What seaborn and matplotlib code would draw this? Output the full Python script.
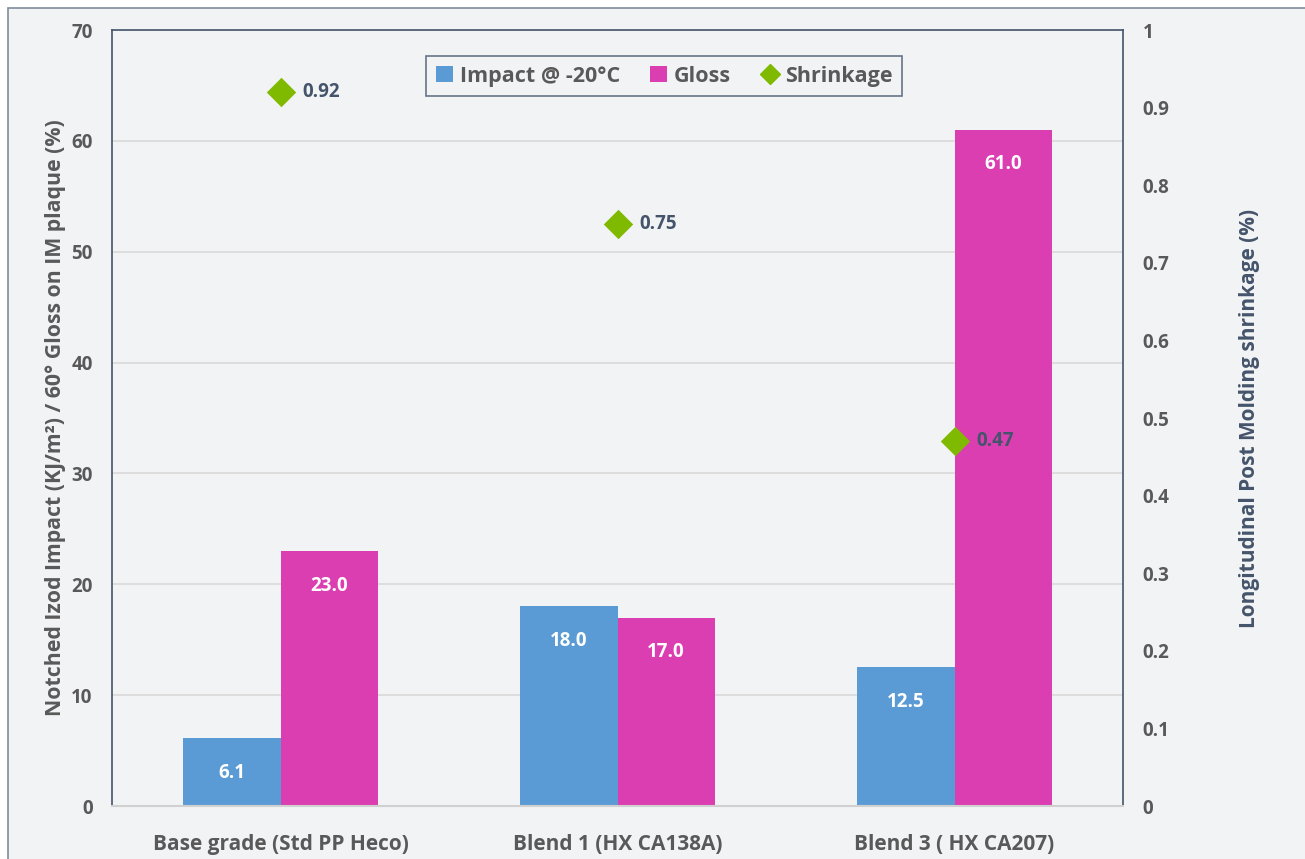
import numpy as np
import pandas as pd
import matplotlib
matplotlib.use("Agg")
import matplotlib.pyplot as plt
from matplotlib.patches import Patch, Rectangle
from matplotlib.lines import Line2D
import seaborn as sns

categories = ["Base grade (Std PP Heco)", "Blend 1 (HX CA138A)", "Blend 3 ( HX CA207)"]
impact = [6.1, 18.0, 12.5]
gloss = [23.0, 17.0, 61.0]
shrinkage = [0.92, 0.75, 0.47]
series_names = ["Impact @ -20°C", "Gloss", "Shrinkage"]
left_ticks = [0, 10, 20, 30, 40, 50, 60, 70]
right_ticks = [0, 0.1, 0.2, 0.3, 0.4, 0.5, 0.6, 0.7, 0.8, 0.9, 1.0]
right_tick_labels = ["0", "0.1", "0.2", "0.3", "0.4", "0.5", "0.6", "0.7", "0.8", "0.9", "1"]

BLUE = "#5B9BD5"
PINK = "#DB3EB1"
GREEN = "#7FBA00"
DARK = "#44546A"
GRAY = "#595959"
BG = "#F2F3F5"

sns.set_theme(style="white")
plt.rcParams["font.family"] = ["Open Sans", "DejaVu Sans"]
plt.rcParams["font.weight"] = "bold"

df = pd.DataFrame({
    "category": categories * 2,
    "series": [series_names[0]] * 3 + [series_names[1]] * 3,
    "value": impact + gloss,
})

fig = plt.figure(figsize=(13.05, 8.59), dpi=100)
fig.patch.set_facecolor("white")
fig.patches.append(Rectangle((8 / 1305, -0.01), 1.02, 1 - 8 / 859 + 0.01, transform=fig.transFigure,
                             facecolor=BG, edgecolor="#7F8C9A", linewidth=1.2, zorder=-10))

ax = fig.add_axes([112 / 1305, 1 - 806 / 859, 1011 / 1305, 776 / 859])
ax.set_facecolor(BG)
sns.barplot(data=df, x="category", y="value", hue="series", order=categories,
            hue_order=series_names[:2], palette=[BLUE, PINK], width=0.576,
            saturation=1, ax=ax, legend=False, zorder=2, edgecolor="none")
ax.set_ylim(0, 70)
ax.set_xlim(-0.5, 2.5)
ax.set_yticks(left_ticks)
ax.set_yticklabels([str(t) for t in left_ticks])
ax.yaxis.grid(True, color="#D9D9D9", linewidth=1.2, zorder=0)
ax.set_axisbelow(True)
ax.tick_params(axis="y", length=0, labelsize=13.5, colors=GRAY, pad=14)
ax.tick_params(axis="x", length=0, labelsize=15, colors=GRAY, pad=20)
for lab in ax.get_xticklabels() + ax.get_yticklabels():
    lab.set_fontweight("bold")
ax.set_xlabel("")
ax.set_ylabel("Notched Izod Impact (KJ/m²) / 60° Gloss on IM plaque (%)", fontsize=15.3,
              color=GRAY, fontweight="bold", labelpad=4)
for s in ["left", "top", "right"]:
    ax.spines[s].set_color(DARK)
    ax.spines[s].set_linewidth(1.2)
ax.spines["bottom"].set_color("#D0D0D0")
ax.spines["bottom"].set_linewidth(1.5)

for cont in ax.containers:
    for rect in cont:
        h = rect.get_height()
        ax.annotate(f"{h:.1f}", (rect.get_x() + rect.get_width() / 2, h),
                    xytext=(0, -25), textcoords="offset points", ha="center", va="center",
                    color="white", fontsize=13.5, fontweight="bold", zorder=5)

ax2 = ax.twinx()
sdf = pd.DataFrame({"category": categories, "value": shrinkage})
sns.stripplot(data=sdf, x="category", y="value", order=categories, jitter=False,
              marker="D", color=GREEN, size=15, ax=ax2, zorder=6, linewidth=0)
ax2.set_xlim(-0.5, 2.5)
ax2.set_ylim(0, 1)
ax2.set_yticks(right_ticks)
ax2.set_yticklabels(right_tick_labels)
ax2.tick_params(axis="y", length=0, labelsize=13.5, colors=GRAY, pad=14)
for lab in ax2.get_yticklabels():
    lab.set_fontweight("bold")
ax2.set_ylabel("Longitudinal Post Molding shrinkage (%)", fontsize=15, color=DARK,
               fontweight="bold", labelpad=50)
for s in ax2.spines.values():
    s.set_visible(False)
ax2.grid(False)
for i, v in enumerate(shrinkage):
    ax2.annotate(f"{v:.2f}", (i, v), xytext=(16, 0), textcoords="offset points",
                 ha="left", va="center", color=DARK, fontsize=13.5, fontweight="bold")

handles = [Patch(facecolor=BLUE, edgecolor="none"),
           Patch(facecolor=PINK, edgecolor="none"),
           Line2D([], [], marker="D", color=GREEN, linestyle="none", markersize=10)]
leg = ax2.legend(handles, series_names, loc="upper center", bbox_to_anchor=(0.546, 0.9665),
                 borderaxespad=0, ncol=3, frameon=True, fancybox=False, fontsize=15.5,
                 handlelength=0.8, handleheight=0.8, handletextpad=0.3, columnspacing=1.4,
                 borderpad=0.45, labelcolor=GRAY)
leg.get_frame().set_edgecolor(DARK)
leg.get_frame().set_linewidth(1.2)
leg.get_frame().set_facecolor(BG)
for t in leg.get_texts():
    t.set_fontweight("bold")

fig.savefig("out.png", dpi=100, facecolor=fig.get_facecolor())
